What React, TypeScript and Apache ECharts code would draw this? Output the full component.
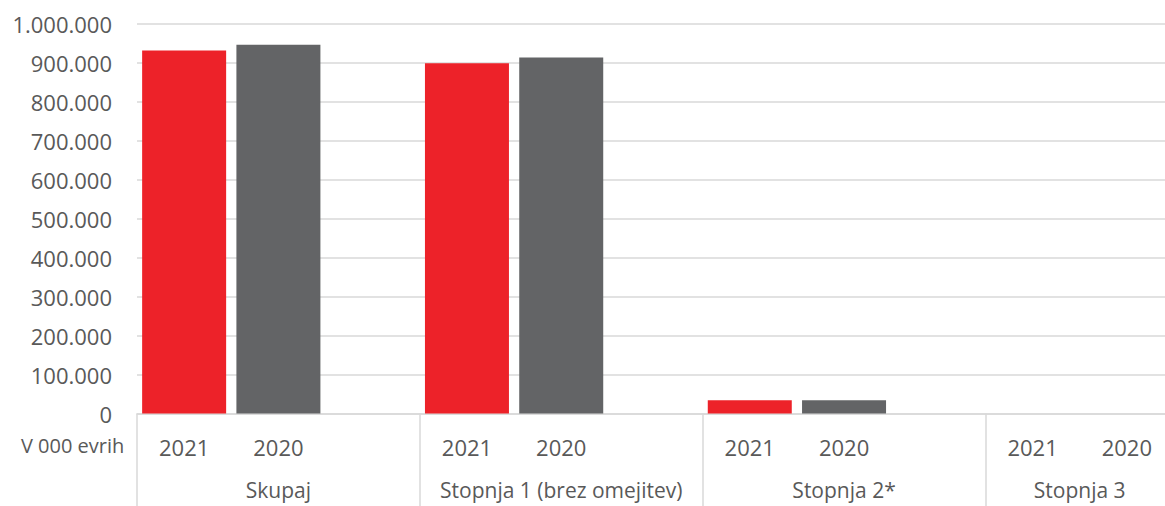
import React, { useEffect, useRef } from "react";
import * as echarts from "echarts";

const groups = ["Skupaj", "Stopnja 1 (brez omejitev)", "Stopnja 2*", "Stopnja 3"];
const years = ["2021", "2020"];
const values2021 = [932000, 899000, 34000, 0];
const values2020 = [947000, 914000, 34000, 0];
const yTicks = [0, 100000, 200000, 300000, 400000, 500000, 600000, 700000, 800000, 900000, 1000000];
const unitLabel = "V 000 evrih";

const colors: Record<string, string> = { "2021": "#ED2229", "2020": "#636466" };

// Build category slots: each group has its years, plus one blank slot except the last group
const slots: { group: string; year: string; value: number | null }[] = [];
groups.forEach((g, gi) => {
  slots.push({ group: g, year: years[0], value: values2021[gi] });
  slots.push({ group: g, year: years[1], value: values2020[gi] });
  if (gi < groups.length - 1) slots.push({ group: g, year: "", value: null });
});
const categories = slots.map((s, i) => `${s.group}|${s.year}|${i}`);

// secondary axis: half-slot points
const halfCount = slots.length * 2 + 1;
const halfCats: string[] = [];
for (let i = 0; i < halfCount; i++) halfCats.push(String(i));
const groupLabelAt: Record<number, string> = {};
const groupBoundary: number[] = [];
{
  let start = 0;
  groups.forEach((g) => {
    const n = slots.filter((s) => s.group === g).length;
    groupBoundary.push(start * 2);
    groupLabelAt[start * 2 + n] = g;
    start += n;
  });
  groupBoundary.push(start * 2);
}

const fmt = (v: number) => String(v).replace(/\B(?=(\d{3})+(?!\d))/g, ".");

const FONT = "Open Sans";
const TEXT = "#595959";
const GRID = "#d9d9d9";

export default function App() {
  const ref = useRef<HTMLDivElement>(null);
  useEffect(() => {
    if (!ref.current) return;
    const chart = echarts.init(ref.current, undefined, { renderer: "svg" });
    chart.setOption({
      animation: false,
      grid: { left: 137, right: 0, top: 24, bottom: 92.5 },
      xAxis: [
        {
          type: "category",
          data: categories,
          axisLine: { show: true, lineStyle: { color: GRID, width: 1.5 } },
          axisTick: { show: false },
          axisLabel: {
            interval: 0,
            margin: 22,
            color: TEXT,
            fontFamily: FONT,
            fontSize: 22,
            formatter: (v: string) => v.split("|")[1],
          },
        },
        {
          type: "category",
          position: "bottom",
          data: halfCats,
          boundaryGap: false,
          axisLine: { show: false },
          axisTick: {
            show: true,
            interval: (i: number) => groupBoundary.indexOf(i) >= 0,
            length: 94,
            lineStyle: { color: GRID, width: 1.5 },
          },
          axisLabel: {
            interval: 0,
            margin: 66,
            color: TEXT,
            fontFamily: FONT,
            fontSize: 21,
            lineHeight: 21,
            formatter: (_v: string, i: number) => groupLabelAt[i] || "",
          },
        },
      ],
      yAxis: {
        type: "value",
        min: yTicks[0],
        max: yTicks[yTicks.length - 1],
        interval: yTicks[1] - yTicks[0],
        axisLine: { show: false },
        axisTick: { show: false },
        splitLine: { lineStyle: { color: GRID, width: 1.5 } },
        axisLabel: {
          margin: 25,
          color: TEXT,
          fontFamily: FONT,
          fontSize: 22,
          formatter: (v: number) => fmt(v),
        },
      },
      graphic: [
        {
          type: "text",
          left: 21,
          top: 435,
          style: {
            text: unitLabel,
            fill: TEXT,
            font: `20px "${FONT}"`,
          },
        },
      ],
      series: [
        {
          type: "bar",
          xAxisIndex: 0,
          barWidth: 84,
          data: slots.map((s) =>
            s.value === null
              ? null
              : { value: s.value, itemStyle: { color: colors[s.year] } }
          ),
        },
      ],
    });
    return () => chart.dispose();
  }, []);
  return (
    <div style={{ position: "absolute", left: 0, top: 0, width: 1165, height: 506, overflow: "hidden", background: "#fff" }}>
      <div ref={ref} style={{ width: 1177, height: 506 }} />
    </div>
  );
}
